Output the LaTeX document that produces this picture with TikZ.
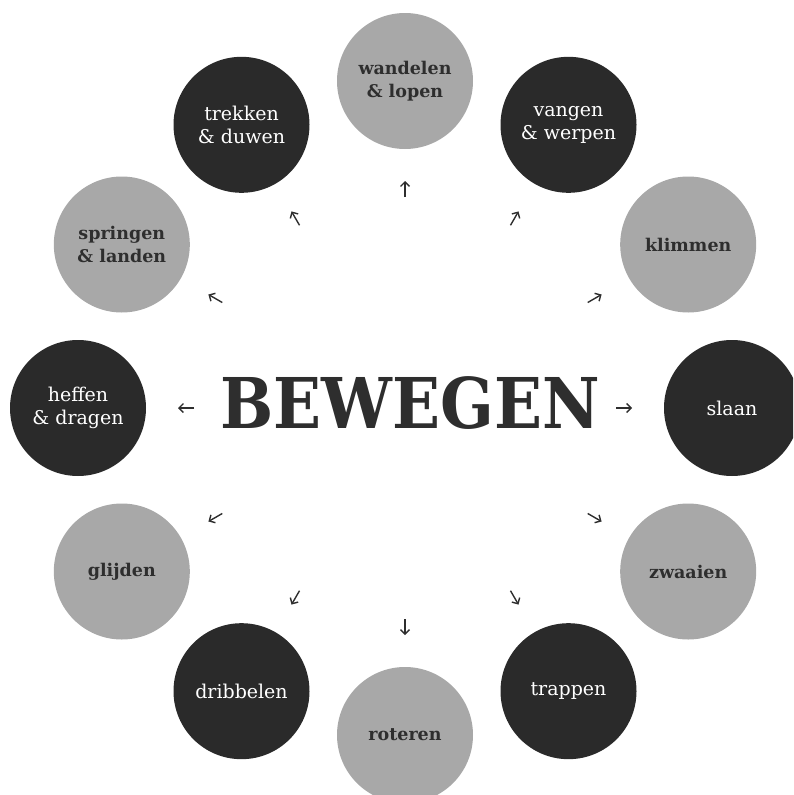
\documentclass[tikz,border=0pt]{standalone}
\usepackage{fontspec}
\setmainfont{DejaVu Serif}
\newfontfamily\titlefont{DejaVu Serif Condensed}
\usetikzlibrary{arrows.meta}
\definecolor{discgray}{HTML}{A8A8A8}
\definecolor{discblack}{HTML}{2A2A2A}
\definecolor{ink}{HTML}{2E2E2E}
\begin{document}
\begin{tikzpicture}[x=1pt,y=-1pt,
  disc/.style={circle,minimum size=136pt,inner sep=0pt,align=center},
  graydisc/.style={disc,fill=discgray,text=ink,font=\bfseries\fontsize{17.5}{23}\selectfont},
  blackdisc/.style={disc,fill=discblack,text=white,font=\fontsize{19}{23}\selectfont},
  pointer/.style={draw=ink,line width=1.4pt,-{Straight Barb[length=4.5pt,width=9pt]}}]
\useasboundingbox (0,0) rectangle (793,795);
\clip (0,0) rectangle (793,795);
\node[text=ink,inner sep=0pt] (title) at (410,403) {\titlefont\bfseries\fontsize{70}{70}\selectfont BEWEGEN};
\foreach \a/\n/\s/\t in {
  90/walk/graydisc/{wandelen\\\& lopen},
  60/catch/blackdisc/{vangen\\\& werpen},
  30/climb/graydisc/{klimmen},
  0/hit/blackdisc/{slaan},
  -30/swing/graydisc/{zwaaien},
  -60/kick/blackdisc/{trappen},
  -90/rotate/graydisc/{roteren},
  -120/dribble/blackdisc/{dribbelen},
  -150/slide/graydisc/{glijden},
  180/lift/blackdisc/{heffen\\\& dragen},
  150/jump/graydisc/{springen\\\& landen},
  120/pull/blackdisc/{trekken\\\& duwen}} {
  \node[\s] (\n) at ({405+327*cos(\a)},{408-327*sin(\a)}) {\t};
  \coordinate (\n-tail) at ({405+211*cos(\a)},{408-211*sin(\a)});
  \coordinate (\n-tip) at ({405+227*cos(\a)},{408-227*sin(\a)});
  \draw[pointer] (\n-tail) -- (\n-tip);
}
\end{tikzpicture}
\end{document}
